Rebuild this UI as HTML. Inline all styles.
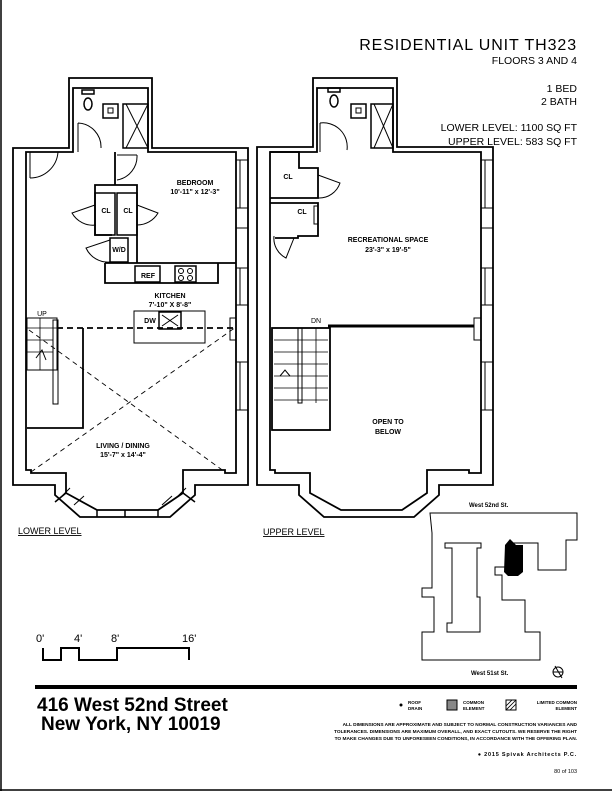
<!DOCTYPE html>
<html><head><meta charset="utf-8"><style>
html,body{margin:0;padding:0;background:#fff}
svg{display:block}
text{font-family:"Liberation Sans",sans-serif;fill:#000}
.lb{font-size:7px;font-weight:bold;text-anchor:middle}
.hd{font-size:10.5px;text-anchor:end}
</style></head><body>
<svg width="612" height="792" viewBox="0 0 612 792" xmlns="http://www.w3.org/2000/svg">
<rect x="0" y="0" width="612" height="792" fill="#fff"/>
<line x1="1" y1="0" x2="1" y2="791" stroke="#000" stroke-width="1.5"/>
<line x1="0" y1="790" x2="612" y2="790" stroke="#000" stroke-width="1.5"/>

<text x="577" y="50" style="font-size:16px;text-anchor:end;letter-spacing:0.9px">RESIDENTIAL UNIT TH323</text>
<text x="577" y="64" class="hd">FLOORS 3 AND 4</text>
<text x="577" y="92" class="hd">1 BED</text>
<text x="577" y="105" class="hd">2 BATH</text>
<text x="577" y="131" class="hd">LOWER LEVEL: 1100 SQ FT</text>
<text x="577" y="145" class="hd">UPPER LEVEL: 583 SQ FT</text>

<g fill="none" stroke="#000" stroke-width="1.5">
<path d="M13,148 H69 V78 H152 V148 H248 V485 H195 V495 L170,517 H80 L55,495 V485 H13 Z" stroke-width="1.8"/>
<path d="M26,152 H73 V88 H148 V152 H236 V473 H225 V470 H183 V493 L158,510 H97 L66,493 V473 H31 V470 H26 Z" stroke-width="1.8"/>
<path d="M97,510 V517 M125,510 V517 M158,510 V517 M66,493 L55,502 M183,493 L195,502"/>
<path d="M60,498 L70,488 M74,505 L84,496 M176,498 L186,488 M162,505 L172,496" stroke-width="1"/>
<path d="M236,160 H248 M236,208 H248 M236,228 H248 M236,268 H248 M236,305 H248 M236,362 H248 M236,410 H248 M240,160 V208 M240,268 V305 M240,362 V410" stroke-width="1"/>
<path d="M236,318 H230 V340 H236 M26,200 V330" stroke-width="1"/>
<ellipse cx="88" cy="104" rx="4" ry="6"/>
<rect x="82" y="90" width="12" height="4"/>
<rect x="103" y="104" width="15" height="14"/>
<rect x="108" y="108" width="5" height="5" stroke-width="1"/>
<rect x="123" y="104" width="25" height="44"/>
<path d="M126,104 L148,148 M148,104 L126,148" stroke-width="1"/>
<path d="M78,123 V152 M78,123 A24,24 0 0 1 101,148" stroke-width="1"/>
<path d="M30,152 V178 M30,178 A28,28 0 0 0 58,152" stroke-width="1"/>
<path d="M115,152 V185 H95 V235 H112 M115,185 H137 V263" stroke-width="1.8"/>
<path d="M117,155 H137 M137,155 A24,24 0 0 1 117,180" stroke-width="1"/>
<rect x="95" y="193" width="20" height="42"/>
<rect x="117" y="193" width="20" height="42"/>
<path d="M95,205 L72,213 A24,24 0 0 0 96,225 M137,205 L158,213 A24,24 0 0 1 137,225" stroke-width="1"/>
<rect x="110" y="238" width="18" height="24"/>
<path d="M110,240 L86,248 A24,24 0 0 0 110,262" stroke-width="1"/>
<path d="M105,263 V283 H218 V263 M105,263 H236" stroke-width="1.8"/>
<rect x="135" y="266" width="25" height="16"/>
<rect x="175" y="266" width="21" height="16"/>
<circle cx="181" cy="271" r="2.5" stroke-width="1"/><circle cx="190" cy="271" r="2.5" stroke-width="1"/>
<circle cx="181" cy="278" r="2.5" stroke-width="1"/><circle cx="190" cy="278" r="2.5" stroke-width="1"/>
<rect x="134" y="311" width="71" height="32" stroke-width="1"/>
<rect x="159" y="312" width="22" height="17"/>
<path d="M162,315 L178,326 M178,315 L162,326" stroke-width="1"/>
<rect x="27" y="318" width="30" height="52" stroke-width="1"/>
<path d="M27,328 H57 M27,340 H53 M27,352 H53 M40,318 V370" stroke-width="0.8"/>
<rect x="53" y="320" width="5" height="84" stroke-width="1"/>
<path d="M27,428 H83 V328" stroke-width="1.8"/>
<path d="M57,328 H236" stroke-dasharray="6,4" stroke-width="1.8"/>
<path d="M31,472 L236,327 M29,330 L225,472" stroke-dasharray="5,4" stroke-width="0.9"/>
<path d="M36,358 L42,350 L46,360" stroke-width="1"/>

<path d="M257,147 H313 V78 H397 V147 H493 V485 H439 V495 L414,517 H324 L299,495 V485 H257 Z" stroke-width="1.8"/>
<path d="M270,152 H317 V88 H393 V152 H481 V473 H469 V470 H427 V493 L402,510 H341 L310,493 V473 H275 V470 H270 Z" stroke-width="1.8"/>
<path d="M481,160 H493 M481,208 H493 M481,228 H493 M481,268 H493 M481,305 H493 M481,362 H493 M481,410 H493 M485,160 V208 M485,268 V305 M485,362 V410" stroke-width="1"/>
<path d="M481,318 H474 V340 H481" stroke-width="1"/>
<ellipse cx="334" cy="101" rx="4" ry="6"/>
<rect x="328" y="88" width="12" height="4"/>
<rect x="351" y="104" width="15" height="14"/>
<rect x="356" y="108" width="5" height="5" stroke-width="1"/>
<rect x="371" y="104" width="22" height="44"/>
<path d="M374,104 L393,148 M393,104 L374,148" stroke-width="1"/>
<path d="M320,123 V152 M320,123 A24,24 0 0 1 347,150" stroke-width="1"/>
<path d="M270,152 H299 V168 H318 V198 H270 M270,203 H318 V236 H298 V238 H275" stroke-width="1.8"/>
<path d="M318,175 L340,183 A22,22 0 0 1 318,198" stroke-width="1"/>
<path d="M318,206 H314 V224 H318" stroke-width="1"/>
<path d="M294,238 L286,258 A22,22 0 0 1 274,236" stroke-width="1"/>
<rect x="272" y="328" width="58" height="102" stroke-width="1.8"/>
<rect x="298" y="328" width="4" height="75" stroke-width="1"/>
<path d="M274,340 H328 M274,352 H328 M274,364 H328 M274,376 H328 M274,388 H328 M274,400 H328 M316,328 V403" stroke-width="0.8"/>
<path d="M280,376 L285,370 L290,376" stroke-width="1"/>
<line x1="328" y1="326" x2="474" y2="326" stroke-width="3"/>

<path d="M43,648 V660 H61 V648 H79 V660 H117 V648 H189 V660" stroke-width="2"/>

<path d="M430,513 H577 V540 H566 V570 H538 V543 H512 V567 H495 V575 H502 V600 H525 V632 H540 V660 H422 V632 H434 V597 H422 V588 H432 V533 Z" stroke-width="1"/>
<path d="M445,543 H481 V548 H477 V597 H480 V632 H447 V623 H452 V548 H445 Z" stroke-width="1"/>
</g>
<path d="M505,545 L510,539 L516,545 H523 V572 L518,576 H508 L504,572 Z" fill="#000"/>
<circle cx="558" cy="672" r="5" fill="none" stroke="#000"/>
<path d="M555,666 L562,678 M553,672 H563" stroke="#000" stroke-width="1"/>

<text x="195" y="185" class="lb">BEDROOM</text>
<text x="195" y="194" class="lb">10'-11" x 12'-3"</text>
<text x="106" y="213" class="lb">CL</text>
<text x="128" y="213" class="lb">CL</text>
<text x="119" y="252" class="lb">W/D</text>
<text x="148" y="278" class="lb">REF</text>
<text x="170" y="298" class="lb">KITCHEN</text>
<text x="170" y="307" class="lb">7'-10" X 8'-8"</text>
<text x="150" y="323" class="lb">DW</text>
<text x="42" y="316" class="lb" style="font-weight:normal">UP</text>
<text x="123" y="448" class="lb">LIVING / DINING</text>
<text x="123" y="457" class="lb">15'-7" x 14'-4"</text>
<text x="288" y="179" class="lb">CL</text>
<text x="302" y="214" class="lb">CL</text>
<text x="388" y="242" class="lb">RECREATIONAL SPACE</text>
<text x="388" y="252" class="lb">23'-3" x 19'-5"</text>
<text x="316" y="323" class="lb" style="font-weight:normal">DN</text>
<text x="388" y="424" class="lb">OPEN TO</text>
<text x="388" y="434" class="lb">BELOW</text>

<text x="18" y="534" style="font-size:9px;text-decoration:underline">LOWER LEVEL</text>
<text x="263" y="535" style="font-size:9px;text-decoration:underline">UPPER LEVEL</text>

<text x="36" y="642" style="font-size:11px">0'</text>
<text x="74" y="642" style="font-size:11px">4'</text>
<text x="111" y="642" style="font-size:11px">8'</text>
<text x="182" y="642" style="font-size:11px">16'</text>

<text x="469" y="507" style="font-size:6px;font-weight:bold">West 52nd St.</text>
<text x="471" y="675" style="font-size:6px;font-weight:bold">West 51st St.</text>

<rect x="35" y="685" width="542" height="4" fill="#000"/>
<text x="37" y="711" style="font-size:19px;font-weight:bold">416 West 52nd Street</text>
<text x="41" y="730" style="font-size:19px;font-weight:bold">New York, NY  10019</text>

<circle cx="401" cy="705" r="1.5" fill="#000"/>
<text x="408" y="704" style="font-size:4.5px;font-weight:bold">ROOF</text>
<text x="408" y="710" style="font-size:4.5px;font-weight:bold">DRAIN</text>
<rect x="447" y="700" width="10" height="10" fill="#888" stroke="#000" stroke-width="1"/>
<text x="463" y="704" style="font-size:4.5px;font-weight:bold">COMMON</text>
<text x="463" y="710" style="font-size:4.5px;font-weight:bold">ELEMENT</text>
<rect x="506" y="700" width="10" height="10" fill="none" stroke="#000" stroke-width="1"/>
<path d="M506,706 L512,700 M506,710 L516,700 M510,710 L516,704" stroke="#000" stroke-width="0.8"/>
<text x="577" y="704" style="font-size:4.5px;font-weight:bold;text-anchor:end">LIMITED COMMON</text>
<text x="577" y="710" style="font-size:4.5px;font-weight:bold;text-anchor:end">ELEMENT</text>

<text x="577" y="726" style="font-size:4.8px;font-weight:bold;text-anchor:end">ALL DIMENSIONS ARE APPROXIMATE AND SUBJECT TO NORMAL CONSTRUCTION VARIANCES AND</text>
<text x="577" y="733" style="font-size:4.8px;font-weight:bold;text-anchor:end">TOLERANCES. DIMENSIONS ARE MAXIMUM OVERALL, AND EXACT CUTOUTS. WE RESERVE THE RIGHT</text>
<text x="577" y="740" style="font-size:4.8px;font-weight:bold;text-anchor:end">TO MAKE CHANGES DUE TO UNFORESEEN CONDITIONS, IN ACCORDANCE WITH THE OFFERING PLAN.</text>
<text x="577" y="756" style="font-size:5.5px;font-weight:bold;text-anchor:end;letter-spacing:0.8px">● 2015 Spivak Architects P.C.</text>
<text x="577" y="773" style="font-size:5.5px;text-anchor:end">80 of 103</text>
</svg>
</body></html>
